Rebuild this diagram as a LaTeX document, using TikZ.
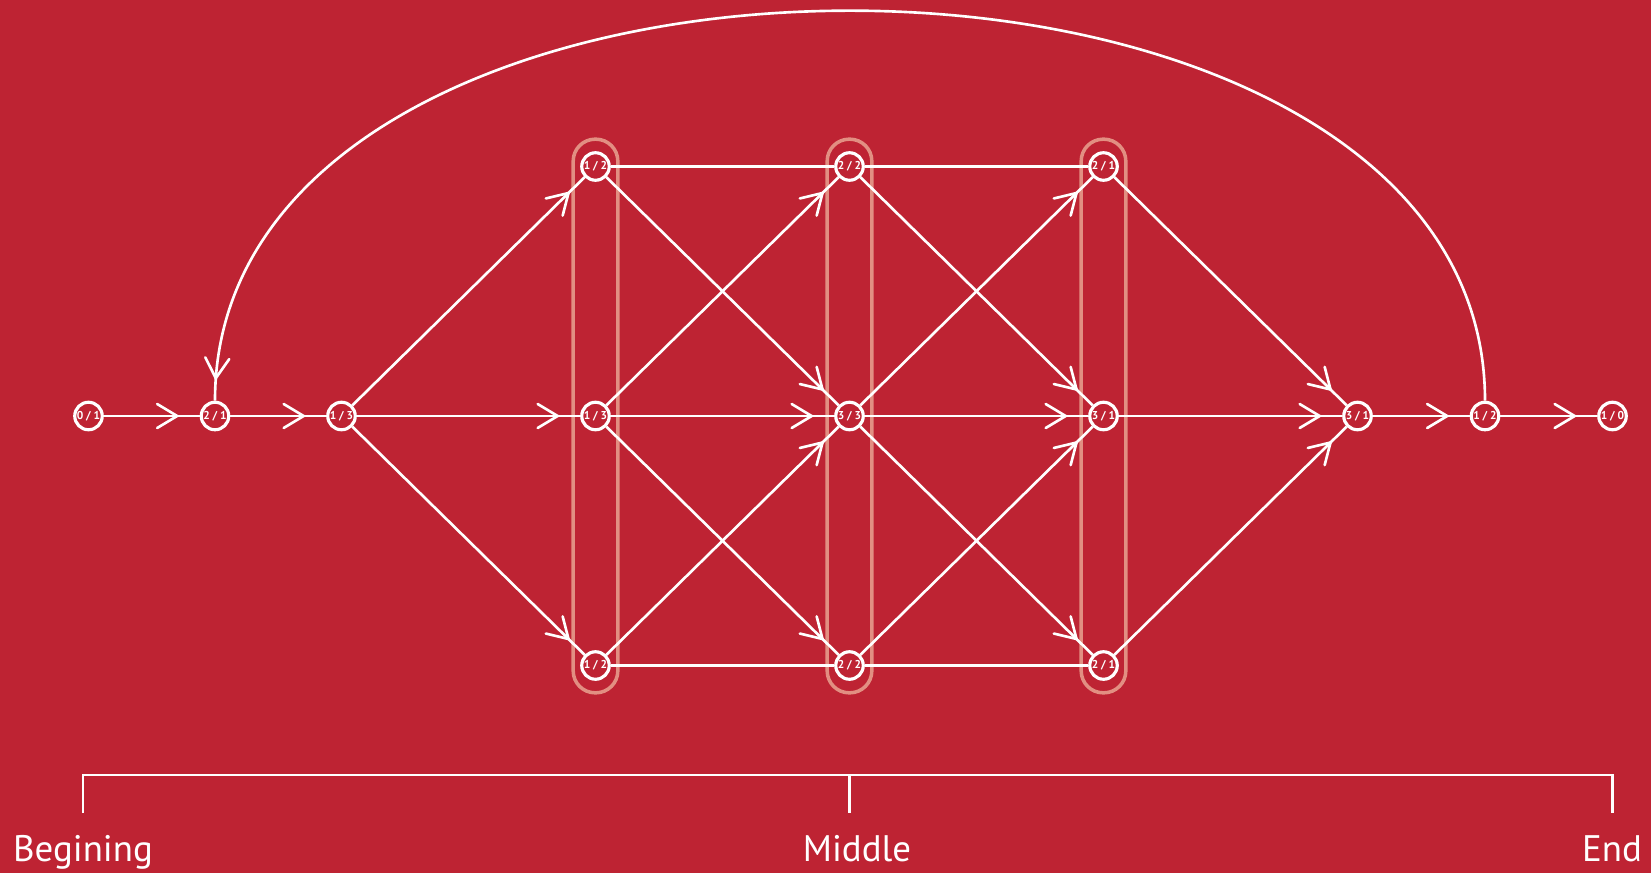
\documentclass[tikz,border=0pt]{standalone}
\usepackage{fontspec}
\setmainfont{PT Sans}
\usetikzlibrary{arrows.meta}
\usetikzlibrary{positioning}
\usetikzlibrary{fit}
\usetikzlibrary{decorations.markings}
\definecolor{BgRed}{RGB}{190,35,51}
\definecolor{BoxPink}{RGB}{236,170,150}
\tikzset{
	link/.style={line width=1.5pt, draw=white},
	barb/.style={line width=1.5pt, draw=white, line cap=round},
	flow/.style={link, postaction={decorate},
		decoration={markings, mark=at position -0.45cm with {\draw[barb] (-4mm,2.4mm) -- (0,0) -- (-4mm,-2.4mm);}}},
	st/.style={circle, draw=white, fill=BgRed, line width=1.8pt, minimum size=5.5mm,
		inner sep=0pt, text=white, font=\fontsize{6.5}{7}\selectfont\bfseries},
	grp/.style={draw=BoxPink, draw opacity=0.8, line width=2pt, rounded corners=4.4mm,
		inner xsep=1.4mm, inner ysep=2.4mm},
	lab/.style={text=white, font=\fontsize{21}{24}\selectfont, inner sep=0pt, anchor=base}
}

\begin{document}
\begin{tikzpicture}[>=Latex, node distance=4.99cm and 2.53cm, on grid]
		\path[use as bounding box, fill=BgRed] (0,0) rectangle (33.02,-17.46);
		% states
		\node[st] (a1) at (1.77,-8.32) {0 / 1};
		\node[st, right=of a1] (a2) {2 / 1};
		\node[st, right=of a2] (a3) {1 / 3};
		\node[st, right=5.08cm of a3] (m1) {1 / 3};
		\node[st, above=of m1] (t1) {1 / 2};
		\node[st, below=of m1] (b1) {1 / 2};
		\node[st, right=5.08cm of m1] (m2) {3 / 3};
		\node[st, above=of m2] (t2) {2 / 2};
		\node[st, below=of m2] (b2) {2 / 2};
		\node[st, right=5.08cm of m2] (m3) {3 / 1};
		\node[st, above=of m3] (t3) {2 / 1};
		\node[st, below=of m3] (b3) {2 / 1};
		\node[st, right=5.08cm of m3] (z1) {3 / 1};
		\node[st, right=2.55cm of z1] (z2) {1 / 2};
		\node[st, right=2.55cm of z2] (z3) {1 / 0};
		% groups
		\node[grp, fit=(t1)(b1)] (g1) {};
		\node[grp, fit=(t2)(b2)] (g2) {};
		\node[grp, fit=(t3)(b3)] (g3) {};
		% edges
		\draw[flow] (a1) -- (a2);
		\draw[flow] (a2) -- (a3);
		\draw[flow] (a3) -- (t1);
		\draw[flow] (a3) -- (m1);
		\draw[flow] (a3) -- (b1);
		\draw[link] (t1) -- (t2);
		\draw[flow] (t1) -- (m2);
		\draw[flow] (m1) -- (t2);
		\draw[flow] (m1) -- (m2);
		\draw[flow] (m1) -- (b2);
		\draw[flow] (b1) -- (m2);
		\draw[link] (b1) -- (b2);
		\draw[link] (t2) -- (t3);
		\draw[flow] (t2) -- (m3);
		\draw[flow] (m2) -- (t3);
		\draw[flow] (m2) -- (m3);
		\draw[flow] (m2) -- (b3);
		\draw[flow] (b2) -- (m3);
		\draw[link] (b2) -- (b3);
		\draw[flow] (t3) -- (z1);
		\draw[flow] (m3) -- (z1);
		\draw[flow] (b3) -- (z1);
		\draw[flow] (z1) -- (z2);
		\draw[flow] (z2) -- (z3);
		\draw[flow] (z2.north) .. controls +(0,10.4) and +(0,10.4) .. (a2.north);
		% scale
		\node[lab] (beg) at (1.66,-17.22) {Begining};
		\node[lab] (mid) at (17.14,-17.22) {Middle};
		\node[lab] (fin) at (32.24,-17.22) {End};
		\coordinate (kl) at (1.66,-15.5);
		\coordinate (km) at (m2 |- kl);
		\coordinate (kr) at (z3 |- kl);
		\draw[link] (kl) ++(0,-0.76) -- (kl) -- (kr) -- ++(0,-0.76);
		\draw[link] (km) -- ++(0,-0.76);
	\end{tikzpicture}
\end{document}
